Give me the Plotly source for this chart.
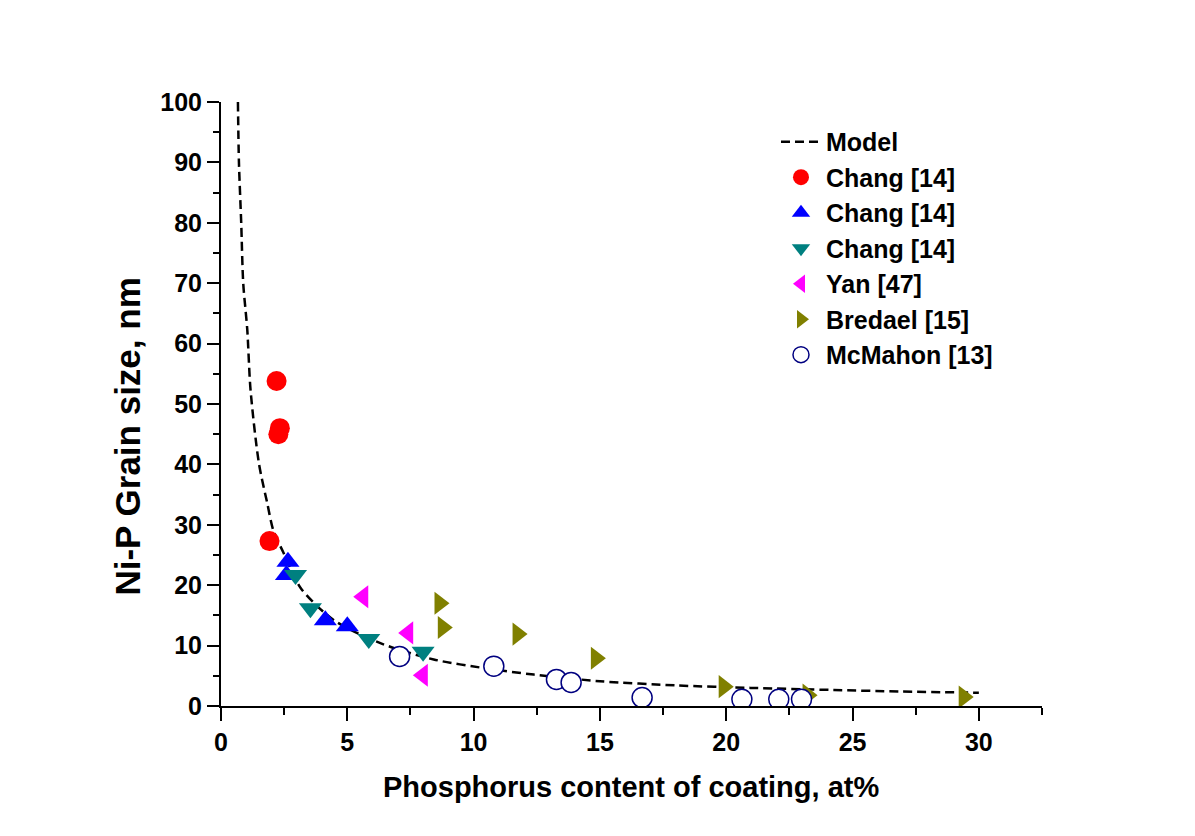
import plotly.graph_objects as go

# Model curve
model_x = [0.67, 0.71, 0.80, 0.88, 1.04, 1.17, 1.5, 1.83, 2.07, 2.46, 3.16, 4.47, 6.31, 8.42, 10.54, 12.38, 15.0, 18.06, 20.96, 24.26, 26.9, 30.0]
model_y = [100, 90, 80, 70, 62.3, 52.3, 40.2, 33.6, 29.1, 25.5, 19.5, 14.2, 10.4, 7.7, 6.2, 5.2, 4.1, 3.4, 3.0, 2.65, 2.4, 2.2]

chang1_x = [1.92, 2.20, 2.27, 2.33]
chang1_y = [27.3, 53.8, 45.0, 46.0]

chang2_x = [2.65, 2.59, 4.13, 5.0]
chang2_y = [23.9, 21.7, 14.2, 13.2]

chang3_x = [2.95, 3.54, 5.85, 8.0]
chang3_y = [21.7, 16.2, 11.1, 9.0]

yan_x = [5.63, 7.41, 7.99]
yan_y = [18.1, 12.1, 5.1]

bredael_x = [8.65, 8.78, 11.74, 14.84, 19.9, 23.22, 29.4]
bredael_y = [17.0, 13.0, 11.9, 7.9, 3.2, 1.8, 1.5]

mcmahon_x = [7.07, 10.8, 13.28, 13.86, 16.67, 20.62, 22.08, 22.98]
mcmahon_y = [8.2, 6.6, 4.4, 3.9, 1.4, 1.1, 1.1, 1.1]

x_range = [0, 32.5]
y_range = [0, 100]
x_major = [0, 5, 10, 15, 20, 25, 30]
x_minor = [2.5, 7.5, 12.5, 17.5, 22.5, 27.5, 32.5]
y_major = list(range(0, 101, 10))
y_minor = list(range(5, 100, 10))

x_title = "Phosphorus content of coating, at%"
y_title = "Ni-P Grain size, nm"

FONT = "Liberation Sans, Arial, sans-serif"

fig = go.Figure()
fig.add_trace(go.Scatter(x=model_x, y=model_y, mode="lines", name="Model",
                         line=dict(color="black", width=2.5, dash="9px,5px", shape="spline", smoothing=0.8)))

def add_pts(x, y, name, symbol, color, line_color=None, line_width=0):
    fig.add_trace(go.Scatter(x=x, y=y, mode="markers", name=name,
                             marker=dict(symbol=symbol, size=20, color=color,
                                         line=dict(color=line_color or color, width=line_width))))

add_pts(chang1_x, chang1_y, "Chang [14]", "circle", "#FF0000")
add_pts(chang2_x, chang2_y, "Chang [14]", "triangle-up", "#0000FF")
add_pts(chang3_x, chang3_y, "Chang [14]", "triangle-down", "#008080")
add_pts(yan_x, yan_y, "Yan [47]", "triangle-left", "#FF00FF")
add_pts(bredael_x, bredael_y, "Bredael [15]", "triangle-right", "#808000")
add_pts(mcmahon_x, mcmahon_y, "McMahon [13]", "circle", "white", "#000080", 1.5)

tickfont = dict(family=FONT, size=25, color="black", weight="bold")
common = dict(tickwidth=2, tickcolor="black", showline=True, linewidth=2, linecolor="black",
              showgrid=False, zeroline=False)

fig.update_layout(
    width=1195, height=836,
    margin=dict(l=212.5, r=161, t=94, b=138),
    paper_bgcolor="white", plot_bgcolor="white",
    showlegend=True,
    legend=dict(x=0.676, y=0.972, xanchor="left", yanchor="top",
                font=dict(family=FONT, size=25, color="black", weight="bold"),
                bgcolor="rgba(0,0,0,0)", itemwidth=40, tracegroupgap=0),
    xaxis=dict(range=x_range, tickvals=x_major, ticks="outside", ticklen=13, tickfont=tickfont,
               minor=dict(tickvals=x_minor, ticks="outside", ticklen=7, tickwidth=2, tickcolor="black", showgrid=False),
               **common),
    yaxis=dict(range=y_range, tickvals=y_major, ticks="outside", ticklen=12, tickfont=tickfont,
               minor=dict(tickvals=y_minor, ticks="outside", ticklen=6, tickwidth=2, tickcolor="black", showgrid=False),
               **common),
    xaxis2=dict(range=x_range, overlaying="x", side="top", anchor="y", tickvals=x_major,
                ticks="inside", ticklen=12, showticklabels=False,
                minor=dict(tickvals=x_minor, ticks="inside", ticklen=6, tickwidth=2, tickcolor="black", showgrid=False),
                **common),
    yaxis2=dict(range=y_range, overlaying="y", side="right", anchor="x", tickvals=y_major,
                ticks="inside", ticklen=12, showticklabels=False,
                minor=dict(tickvals=y_minor, ticks="inside", ticklen=6, tickwidth=2, tickcolor="black", showgrid=False),
                **common),
    annotations=[
        dict(text=x_title, xref="paper", yref="paper", x=0.499, y=-0.134, xanchor="center", yanchor="middle",
             showarrow=False, font=dict(family=FONT, size=29, color="black", weight="bold")),
        dict(text=y_title, xref="paper", yref="paper", x=-0.1138, y=0.4454, xanchor="center", yanchor="middle",
             textangle=-90, showarrow=False, font=dict(family=FONT, size=35, color="black", weight="bold")),
    ],
)

fig.write_html("out.html")
